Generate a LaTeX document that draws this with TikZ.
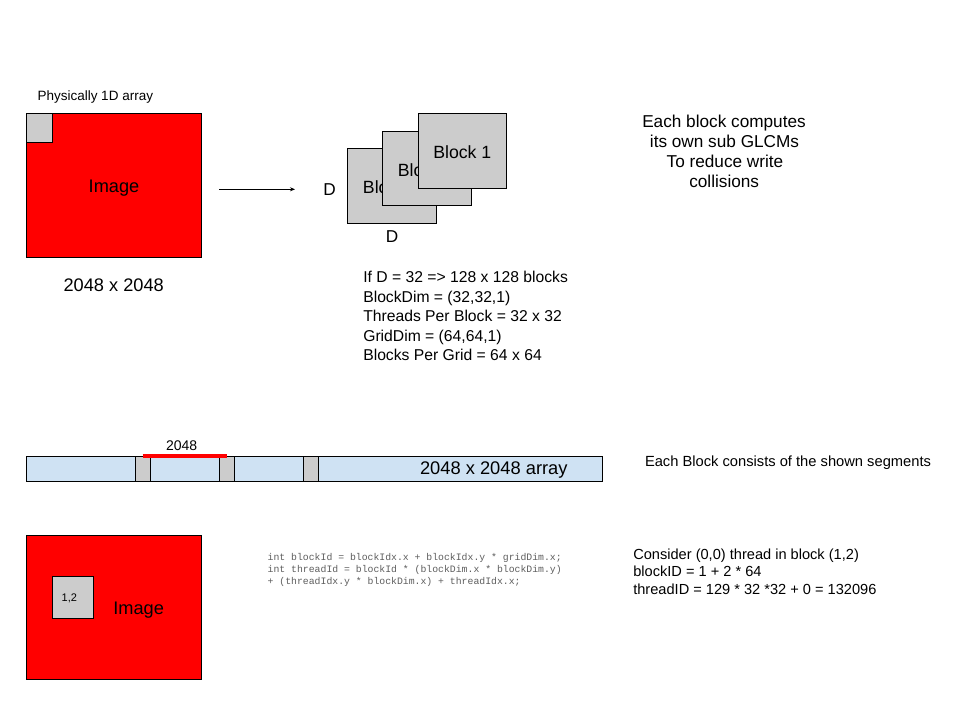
\documentclass[tikz,border=0pt]{standalone}
\usepackage{fontspec}
\setmainfont{Liberation Sans}
\setmonofont{Liberation Mono}
\usetikzlibrary{arrows.meta}
\definecolor{imgred}{HTML}{FF0000}
\definecolor{blkgray}{HTML}{CCCCCC}
\definecolor{arrblue}{HTML}{CFE2F3}
\definecolor{codegray}{HTML}{5E5E5E}
\newcommand{\fsz}[1]{\fontsize{#1}{#1}\selectfont}
\begin{document}
\begin{tikzpicture}[x=1pt,y=-1pt,
  rbox/.style={draw=black, line width=1pt, inner sep=0pt, outer sep=0pt, anchor=north west},
  imgbox/.style={rbox, fill=imgred},
  graybox/.style={rbox, fill=blkgray},
  barbox/.style={rbox, fill=arrblue},
  lbl/.style={inner sep=0pt, outer sep=0pt, anchor=base},
  lbll/.style={inner sep=0pt, outer sep=0pt, anchor=base west},
  imgtxt/.style={lbl, font=\fsz{18.2}},
  blktxt/.style={lbl, font=\fsz{17.7}},
  infotxt/.style={lbll, font=\fsz{15.7}},
  notetxt/.style={lbl, font=\fsz{17.2}},
  thrtxt/.style={lbll, font=\fsz{14.6}},
  codetxt/.style={lbll, font=\ttfamily\fsz{9.8}, text=codegray},
  conn/.style={draw=black, line width=0.9pt, -{Stealth[length=5pt,width=4pt]}},
  redmark/.style={draw=imgred, line width=3.6pt}
]
\useasboundingbox (0,0) rectangle (960,720);
\fill[white] (0,0) rectangle (960,720);

% ---- top-left image
\node[lbll, font=\fsz{13.5}] (phys) at (37.5,100.7) {Physically 1D array};
\node[imgbox, minimum width=175.7pt, minimum height=144pt] (img1) at (26,113.3) {};
\node[graybox, minimum width=26.3pt, minimum height=29pt] (tile1) at (26,113.3) {};
\node[imgtxt] (img1lbl) at (114,192.3) {Image};
\node[imgtxt] (size1) at (113.7,291.7) {2048 x 2048};

% ---- arrow
\coordinate (a1) at (219.3,189.3);
\coordinate (a2) at (295,189.3);
\draw[conn] (a1) -- (a2);

% ---- blocks
\node[blktxt, font=\fsz{17.2}] (dleft) at (329.5,195.7) {D};
\node[graybox, minimum width=89.4pt, minimum height=75pt] (blk3) at (347.3,148.3) {};
\node[blktxt] (blk3lbl) at (392,193.3) {Block 3};
\node[graybox, minimum width=89pt, minimum height=73.6pt] (blk2) at (382.3,131.7) {};
\node[blktxt] (blk2lbl) at (426.8,176) {Block 2};
\node[graybox, minimum width=88pt, minimum height=75pt] (blk1) at (418.3,113.3) {};
\node[blktxt] (blk1lbl) at (462.3,158.3) {Block 1};
\node[blktxt, font=\fsz{17.2}] (dbot) at (392,242.7) {D};

% ---- info text
\node[infotxt] (i1) at (363.3,282.7) {If D = 32 => 128 x 128 blocks};
\node[infotxt] (i2) at (363.3,302.2) {BlockDim = (32,32,1)};
\node[infotxt] (i3) at (363.3,321.7) {Threads Per Block = 32 x 32};
\node[infotxt] (i4) at (363.3,341.2) {GridDim = (64,64,1)};
\node[infotxt] (i5) at (363.3,360.7) {Blocks Per Grid = 64 x 64};

% ---- note top right
\node[notetxt] (n1) at (724,127) {Each block computes};
\node[notetxt] (n2) at (724.5,147) {its own sub GLCMs};
\node[notetxt] (n3) at (725,167) {To reduce write};
\node[notetxt] (n4) at (724.2,187) {collisions};

% ---- 1D array bar
\node[barbox, minimum width=576.7pt, minimum height=24.3pt] (bar) at (26,456.7) {};
\node[graybox, minimum width=14.6pt, minimum height=24.3pt] (seg1) at (135.7,456.7) {};
\node[graybox, minimum width=14.7pt, minimum height=24.3pt] (seg2) at (219.3,456.7) {};
\node[graybox, minimum width=15pt, minimum height=24.3pt] (seg3) at (303.3,456.7) {};
\node[lbl, font=\fsz{18.3}] (barlbl) at (493.8,474.3) {2048 x 2048 array};
\coordinate (r1) at (142.7,456.2);
\coordinate (r2) at (226.7,456.2);
\draw[redmark] (r1) -- (r2);
\node[lbl, font=\fsz{14}] (seglen) at (181.7,450.7) {2048};
\node[lbll, font=\fsz{14.7}] (segnote) at (645,466.7) {Each Block consists of the shown segments};

% ---- bottom image
\node[imgbox, minimum width=175.7pt, minimum height=144.3pt] (img2) at (26,535) {};
\node[graybox, minimum width=41pt, minimum height=41.6pt] (tile2) at (52.3,576.7) {};
\node[lbl, font=\fsz{11}] (tile2lbl) at (69.3,601.7) {1,2};
\node[imgtxt] (img2lbl) at (138.7,614) {Image};

% ---- code
\node[codetxt] (c1) at (267.7,560) {int blockId = blockIdx.x + blockIdx.y * gridDim.x;};
\node[codetxt] (c2) at (267.7,572) {int threadId = blockId * (blockDim.x * blockDim.y)};
\node[codetxt] (c3) at (267.7,584) {+ (threadIdx.y * blockDim.x) + threadIdx.x;};

% ---- thread example
\node[thrtxt] (t1) at (633.3,559.3) {Consider (0,0) thread in block (1,2)};
\node[thrtxt] (t2) at (633.3,576.7) {blockID = 1 + 2 * 64};
\node[thrtxt] (t3) at (633.3,594) {threadID = 129 * 32 *32 + 0 = 132096};
\end{tikzpicture}
\end{document}
